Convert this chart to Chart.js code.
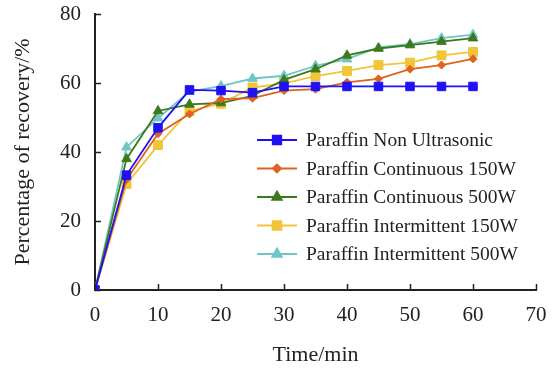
<!DOCTYPE html>
<html>
<head>
<meta charset="utf-8">
<script src="https://cdn.jsdelivr.net/npm/chart.js@4"></script>
<style>
  html, body { margin: 0; padding: 0; background: #fff; }
  #wrap { width: 558px; height: 371px; position: relative; }
</style>
</head>
<body>
<div id="wrap"><canvas id="recovery"></canvas></div>
<script>
// Sampling times (min)
const times = [0, 5, 10, 15, 20, 25, 30, 35, 40, 45, 50, 55, 60];

// Recovery (%) for each treatment
const nonUltrasonic = [0, 33.3, 47, 58, 57.8, 57.2, 59, 59, 59, 59, 59, 59, 59];
const continuous150 = [0, 32, 45.3, 51, 55.3, 55.6, 57.8, 58.2, 60.2, 61.2, 64, 65.2, 67];
const continuous500 = [0, 38, 51.9, 53.8, 54.2, 56.3, 60.9, 64, 68, 70, 71, 72, 73];
const intermit150 = [0, 30.7, 42, 51.9, 54, 58.7, 59.9, 62, 63.5, 65.2, 65.9, 68, 69];
const intermit500 = [0, 41.4, 49.8, 57.5, 59.1, 61.3, 62.1, 65, 66.9, 70.3, 71.3, 73, 74];

const xTicks = [0, 10, 20, 30, 40, 50, 60, 70];
const yTicks = [0, 20, 40, 60, 80];

const serif = "'Liberation Serif', 'Times New Roman', serif";
const ink = "#222";

const pts = (vals) => times.map((t, i) => ({ x: t, y: vals[i] }));

const series = [
    { label: "Paraffin Non Ultrasonic", data: nonUltrasonic, color: "#1f10f5", style: "rect", r: 6 },
    { label: "Paraffin Continuous 150W", data: continuous150, color: "#e0621f", style: "rectRot", r: 4 },
    { label: "Paraffin Continuous 500W", data: continuous500, color: "#3b7a1c", style: "triangle", r: 5.5 },
    { label: "Paraffin Intermittent 150W", data: intermit150, color: "#f0c53a", style: "rect", r: 6.3 },
    { label: "Paraffin Intermittent 500W", data: intermit500, color: "#70c6c6", style: "triangle", r: 5.5 },
];

// Inward tick marks on both axes
const innerTicks = {
    id: "innerTicks",
    afterDraw(chart) {
        const { ctx, chartArea: a, scales } = chart;
        ctx.save();
        ctx.strokeStyle = ink;
        ctx.lineWidth = 1.5;
        ctx.beginPath();
        xTicks.forEach((v) => {
            const px = Math.round(scales.x.getPixelForValue(v)) + 0.5;
            ctx.moveTo(px, a.bottom);
            ctx.lineTo(px, a.bottom - 6);
        });
        yTicks.forEach((v) => {
            const py = Math.round(scales.y.getPixelForValue(v)) + 0.5;
            ctx.moveTo(a.left, py);
            ctx.lineTo(a.left + 6, py);
        });
        ctx.stroke();
        ctx.restore();
    },
};

// Legend inside the plot: line sample with marker, then label
const innerLegend = {
    id: "innerLegend",
    afterDatasetsDraw(chart) {
        const { ctx } = chart;
        const x0 = 257, x1 = 297, tx = 306, y0 = 140, dy = 28.5;
        ctx.save();
        ctx.font = "19.5px " + serif;
        ctx.textBaseline = "middle";
        chart.data.datasets.forEach((ds, i) => {
            const y = y0 + i * dy;
            ctx.strokeStyle = ds.borderColor;
            ctx.lineWidth = ds.borderWidth;
            ctx.beginPath();
            ctx.moveTo(x0, y);
            ctx.lineTo(x1, y);
            ctx.stroke();
            ctx.fillStyle = ds.pointBackgroundColor;
            ctx.strokeStyle = ds.pointBorderColor;
            Chart.helpers.drawPoint(ctx, { pointStyle: ds.pointStyle, radius: ds.pointRadius, borderWidth: 1 }, (x0 + x1) / 2, y);
            ctx.fillStyle = ink;
            ctx.fillText(ds.label, tx, y + 1);
        });
        ctx.restore();
    },
};

new Chart(document.getElementById("recovery"), {
    type: "line",
    data: {
        datasets: series.map((s) => ({
            label: s.label,
            data: pts(s.data),
            borderColor: s.color,
            backgroundColor: s.color,
            pointBackgroundColor: s.color,
            pointBorderColor: s.color,
            borderWidth: 1.8,
            pointStyle: s.style,
            pointRadius: s.r,
            pointHoverRadius: s.r,
            pointBorderWidth: 1,
            tension: 0,
        })),
    },
    options: {
        responsive: true,
        maintainAspectRatio: false,
        animation: false,
        layout: { padding: { top: 14, right: 22, left: 0, bottom: 0 } },
        plugins: {
            legend: { display: false },
            tooltip: { enabled: false },
        },
        scales: {
            x: {
                type: "linear",
                min: 0,
                max: 70,
                afterBuildTicks: (s) => { s.ticks = xTicks.map((v) => ({ value: v })); },
                afterFit: (s) => {
                    s.height = 81;
                    s.paddingLeft = 0;
                    s.paddingRight = 0;
                },
                grid: { display: false, drawTicks: false },
                border: { display: true, color: ink, width: 2 },
                ticks: { color: ink, padding: 13, font: { family: serif, size: 21 } },
                title: {
                    display: true,
                    text: "Time/min",
                    color: ink,
                    font: { family: serif, size: 22 },
                    padding: { top: 3, bottom: 3 },
                },
            },
            y: {
                min: 0,
                max: 80,
                afterBuildTicks: (s) => { s.ticks = yTicks.map((v) => ({ value: v })); },
                afterFit: (s) => {
                    s.width = 95;
                    s.paddingTop = 0;
                    s.paddingBottom = 0;
                },
                grid: { display: false, drawTicks: false },
                border: { display: true, color: ink, width: 2 },
                ticks: { color: ink, padding: 14, font: { family: serif, size: 21 } },
                title: {
                    display: true,
                    text: "Percentage of recovery/%",
                    color: ink,
                    font: { family: serif, size: 22 },
                    padding: { top: 10, bottom: 0 },
                },
            },
        },
    },
    plugins: [innerTicks, innerLegend],
});
</script>
</body>
</html>
